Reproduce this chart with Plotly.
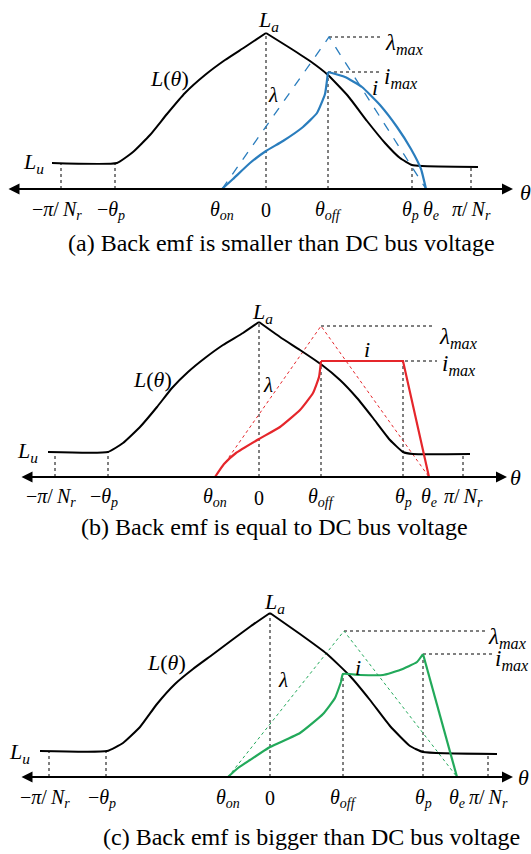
import numpy as np
import plotly.graph_objects as go

W, H = 531, 854
FONT = "'Times New Roman', 'Liberation Serif', 'DejaVu Serif', serif"

# ---------- data: x = rotor-angle position, h = height above the θ axis ----------
# (a) back emf smaller than DC bus voltage
A_TICK_X = [61, 115, 222, 266, 328, 412, 426, 471]
A_LUP_X = [52, 117, 133, 150, 167, 185, 205, 225, 245, 266]
A_LUP_H = [26, 26, 37, 54, 75, 96, 114, 129, 142, 156]
A_LDN_X = [266, 290, 310, 328, 348, 367, 385, 400, 412, 422, 478]
A_LDN_H = [156, 141, 128, 114, 93, 68, 46, 31, 24, 23, 22]
A_LAM_X = [222, 329, 426]
A_LAM_H = [0, 152, 0]
A_IUP_X = [222, 233, 250, 266, 283, 303, 317, 325, 328]
A_IUP_H = [0, 10, 26, 38, 48, 62, 76, 95, 117]
A_IDN_X = [328, 345, 362, 380, 397, 411, 421, 426]
A_IDN_H = [117, 112, 102, 84, 62, 40, 20, 0]
A_AXIS = [7, 513]

# (b) back emf equal to DC bus voltage
B_TICK_X = [55, 108, 215, 259, 321, 403, 429, 463]
B_LUP_X = [48, 108, 123, 140, 157, 172, 188, 205, 223, 243, 259]
B_LUP_H = [25, 25, 34, 50, 70, 89, 105, 119, 132, 144, 155]
B_LDN_X = [259, 280, 300, 322, 340, 357, 373, 390, 403, 413, 470]
B_LDN_H = [155, 140, 127, 112, 97, 79, 59, 37, 25, 23, 23]
B_LAM_X = [215, 321, 429]
B_LAM_H = [0, 151, 0]
B_IUP_X = [215, 224, 236, 259, 280, 300, 313, 319, 321]
B_IUP_H = [0, 13, 24, 38, 50, 67, 84, 100, 116]
B_IDN_X = [321, 403, 429]
B_IDN_H = [116, 116, 0]
B_AXIS = [20, 507]

# (c) back emf bigger than DC bus voltage
C_TICK_X = [49, 106, 228, 270, 343, 423, 457, 488]
C_LUP_X = [40, 107, 123, 140, 157, 175, 193, 212, 232, 251, 270]
C_LUP_H = [26, 26, 34, 50, 73, 93, 108, 122, 137, 151, 164]
C_LDN_X = [270, 300, 327, 350, 370, 390, 410, 423, 497]
C_LDN_H = [164, 143, 123, 101, 77, 51, 31, 25, 23]
C_LAM_X = [228, 344, 457]
C_LAM_H = [0, 146, 0]
C_IUP_X = [228, 238, 250, 270, 300, 323, 335, 341]
C_IUP_H = [0, 9, 17, 30, 44, 63, 79, 95]
C_IMID_X = [341, 343, 360, 383, 400, 417, 423]
C_IMID_H = [95, 103, 102, 102, 107, 115, 123]
C_IDN_X = [423, 457]
C_IDN_H = [123, 0]
C_AXIS = [20, 513]

TS = "\u2009"
TICK_TEXT = ["−<i>π</i>/" + TS + "<i>N<sub>r</sub></i>", "−<i>θ<sub>p</sub></i>", "<i>θ<sub>on</sub></i>", "0",
             "<i>θ<sub>off</sub></i>", "<i>θ<sub>p</sub></i>", "<i>θ<sub>e</sub></i>",
             "<i>π</i>/" + TS + "<i>N<sub>r</sub></i>"]
CAPTIONS = ["(a) Back emf is smaller than DC bus voltage",
            "(b) Back emf is equal to DC bus voltage",
            "(c) Back emf is bigger than DC bus voltage"]

# panel layout in pixel rows: (top, bottom, axis row)
PANELS = [(0, 262, 189), (280, 562, 477), (570, 854, 777)]
COLORS = ["#2a7dbd", "#e5262b", "#22a95a"]

panels = [
    dict(tx=A_TICK_X, lup=(A_LUP_X, A_LUP_H), ldn=(A_LDN_X, A_LDN_H), lam=(A_LAM_X, A_LAM_H),
         isegs=[(A_IUP_X, A_IUP_H, "spline"), (A_IDN_X, A_IDN_H, "spline")], ax=A_AXIS,
         lam_dash="dash", lam_w=1.3, lam_end=382, imax_end=380,
         lam_lbl=(383, 145), imax_lbl=(382, 111), i_lbl=(375, 102), lamb_lbl=(273, 94),
         Lth_lbl=(169, 111), La_lbl=(268, 168), Lu_lbl=(33, 26), theta_lbl=(525, -3),
         cap=(281, -54), tick_y=-21, te_shift=5, tp_shift=-2),
    dict(tx=B_TICK_X, lup=(B_LUP_X, B_LUP_H), ldn=(B_LDN_X, B_LDN_H), lam=(B_LAM_X, B_LAM_H),
         isegs=[(B_IUP_X, B_IUP_H, "spline"), (B_IDN_X, B_IDN_H, "linear")], ax=B_AXIS,
         lam_dash="dot", lam_w=1, lam_end=435, imax_end=437,
         lam_lbl=(437, 139), imax_lbl=(440, 112), i_lbl=(367, 127), lamb_lbl=(268, 92),
         Lth_lbl=(152, 97), La_lbl=(262, 164), Lu_lbl=(27, 25), theta_lbl=(515, -1),
         cap=(274, -50), tick_y=-21, te_shift=0, tp_shift=0),
    dict(tx=C_TICK_X, lup=(C_LUP_X, C_LUP_H), ldn=(C_LDN_X, C_LDN_H), lam=(C_LAM_X, C_LAM_H),
         isegs=[(C_IUP_X, C_IUP_H, "spline"), (C_IMID_X, C_IMID_H, "spline"), (C_IDN_X, C_IDN_H, "linear")],
         ax=C_AXIS, lam_dash="dot", lam_w=1, lam_end=485, imax_end=492,
         lam_lbl=(486, 139), imax_lbl=(493, 117), i_lbl=(358, 110), lamb_lbl=(283, 97),
         Lth_lbl=(166, 115), La_lbl=(274, 174), Lu_lbl=(19, 24), theta_lbl=(523, 0),
         cap=(311, -60), tick_y=-21, te_shift=0, tp_shift=0),
]

fig = go.Figure()
annotations = []
axes = {}


def curve_at(xs, hs, x):
    return float(np.interp(x, xs, hs))


for k, ((top, bot, axrow), d, col, cap) in enumerate(zip(PANELS, panels, COLORS, CAPTIONS)):
    sfx = "" if k == 0 else str(k + 1)
    xa, ya = "x" + sfx, "y" + sfx
    axes["xaxis" + sfx] = dict(domain=[0, 1], range=[0, W], visible=False, fixedrange=True, anchor=ya)
    axes["yaxis" + sfx] = dict(domain=[1 - bot / H, 1 - top / H], range=[axrow - bot, axrow - top],
                               visible=False, fixedrange=True, anchor=xa)

    tx = d["tx"]
    Lx = list(d["lup"][0]) + list(d["ldn"][0][1:])
    Lh = list(d["lup"][1]) + list(d["ldn"][1][1:])
    ix, ih = [], []
    for sx, sh, _ in d["isegs"]:
        ix += list(sx)
        ih += list(sh)
    Lu = Lh[0]
    La = max(Lh)
    imax = max(ih)
    lam_max = max(d["lam"][1])
    lam_pk_x = d["lam"][0][1]
    imax_x = ix[ih.index(imax)]
    i_off = max(h for x, h in zip(ix, ih) if x == tx[4])

    dot = dict(color="black", width=1, dash="dot")
    guides = [
        ([tx[0], tx[0]], [0, Lu]),
        ([tx[1], tx[1]], [0, Lu]),
        ([tx[3], tx[3]], [0, La]),
        ([tx[4], tx[4]], [0, i_off]),
        ([tx[5], tx[5]], [0, imax if k > 0 else curve_at(Lx, Lh, tx[5])]),
        ([tx[7], tx[7]], [0, curve_at(Lx, Lh, tx[7])]),
        ([lam_pk_x, d["lam_end"]], [lam_max, lam_max]),
        ([imax_x, d["imax_end"]], [imax, imax]),
    ]
    for gx, gy in guides:
        fig.add_trace(go.Scatter(x=gx, y=gy, mode="lines", line=dot, xaxis=xa, yaxis=ya,
                                 hoverinfo="skip", showlegend=False))

    # flux linkage λ
    fig.add_trace(go.Scatter(x=d["lam"][0], y=d["lam"][1], mode="lines",
                             line=dict(color=col, width=d["lam_w"], dash=d["lam_dash"]),
                             xaxis=xa, yaxis=ya, showlegend=False, hoverinfo="skip"))
    # inductance profile L(θ)
    for sx, sh in (d["lup"], d["ldn"]):
        fig.add_trace(go.Scatter(x=sx, y=sh, mode="lines",
                                 line=dict(color="black", width=2, shape="spline", smoothing=0.4),
                                 xaxis=xa, yaxis=ya, showlegend=False, hoverinfo="skip"))
    # phase current i
    for sx, sh, shp in d["isegs"]:
        ln = dict(color=col, width=2.2, shape=shp)
        if shp == "spline":
            ln["smoothing"] = 0.4
        fig.add_trace(go.Scatter(x=sx, y=sh, mode="lines", line=ln,
                                 xaxis=xa, yaxis=ya, showlegend=False, hoverinfo="skip"))

    # θ axis, arrowheads on both ends
    annotations.append(dict(x=d["ax"][1], y=0, ax=d["ax"][0], ay=0, xref=xa, yref=ya, axref=xa, ayref=ya,
                            text="", showarrow=True, arrowhead=2, arrowside="end+start",
                            arrowsize=1.1, arrowwidth=2, arrowcolor="black"))

    shifts = [-4, -4, 0, 0, 0, d["tp_shift"], d["te_shift"], 0]
    for xpos, t, sh in zip(tx, TICK_TEXT, shifts):
        annotations.append(dict(x=xpos, y=d["tick_y"], xref=xa, yref=ya, text=t, showarrow=False,
                                xshift=sh, font=dict(family=FONT, size=20, color="black")))

    def lbl(pos, text, size=20, xanchor="center"):
        annotations.append(dict(x=pos[0], y=pos[1], xref=xa, yref=ya, text=text, showarrow=False,
                                xanchor=xanchor, font=dict(family=FONT, size=size, color="black")))

    lbl(d["La_lbl"], "<i>L<sub>a</sub></i>", 22)
    lbl(d["Lu_lbl"], "<i>L<sub>u</sub></i>", 22)
    lbl(d["Lth_lbl"], "<i>L</i>(<i>θ</i>)", 22)
    lbl(d["lamb_lbl"], "<i>λ</i>", 21)
    lbl(d["i_lbl"], "<i>i</i>", 22)
    lbl(d["lam_lbl"], "<i>λ<sub>max</sub></i>", 23, "left")
    lbl(d["imax_lbl"], "<i>i<sub>max</sub></i>", 23, "left")
    lbl(d["theta_lbl"], "<i>θ</i>", 22)
    lbl(d["cap"], cap, 24)

fig.update_layout(width=W, height=H, margin=dict(l=0, r=0, t=0, b=0),
                  paper_bgcolor="white", plot_bgcolor="white",
                  font=dict(family=FONT),
                  annotations=annotations, showlegend=False, **axes)
fig.write_html("out.html", config={"displayModeBar": False})
